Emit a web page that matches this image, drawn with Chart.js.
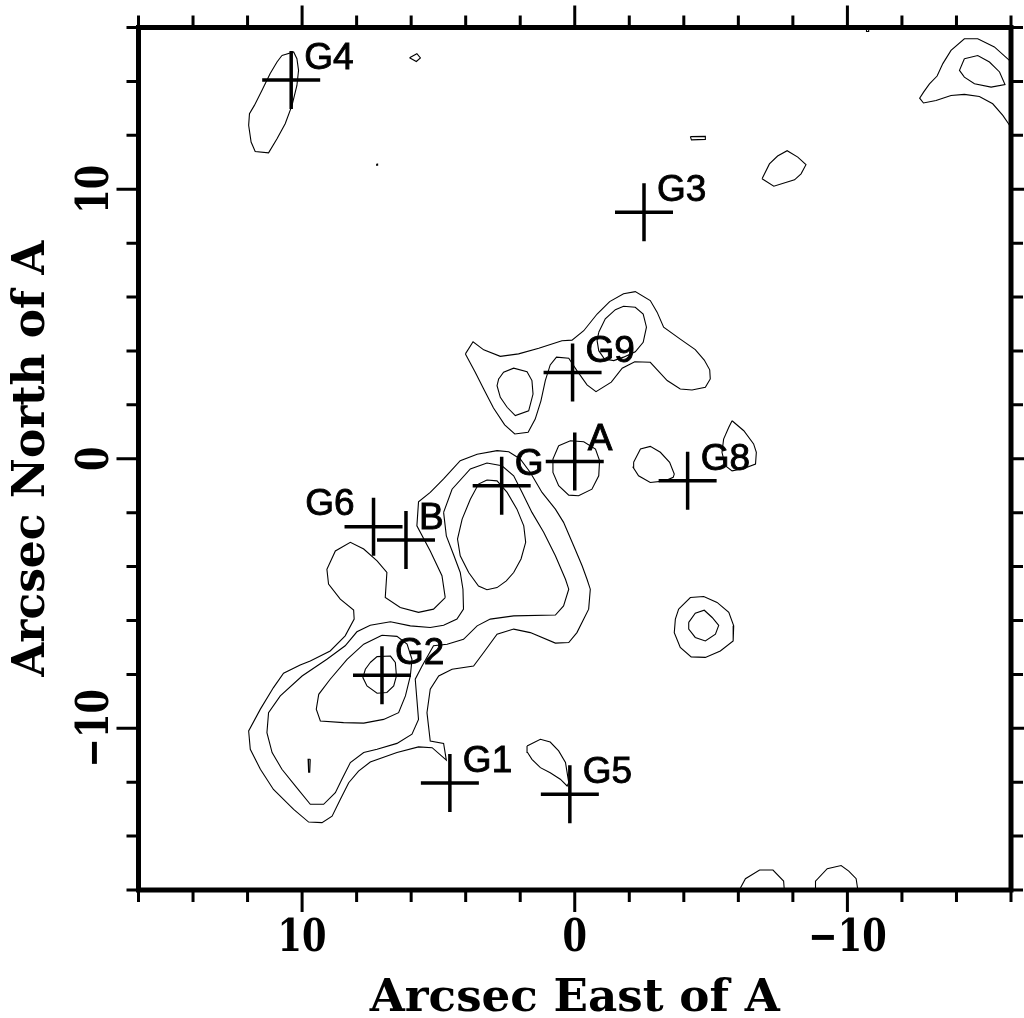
<!DOCTYPE html>
<html>
<head>
    <meta charset="utf-8" />
    <title>Arcsec offsets from A</title>
    <style>
        html, body { margin: 0; padding: 0; background: #fff; }
        canvas { display: block; }
    </style>
</head>
<body>
    <canvas id="myChart" width="1024" height="1018"></canvas>
    <script src="https://cdn.jsdelivr.net/npm/chart.js@4.4.1/dist/chart.umd.min.js"></script>
    <script>

        // axis ticks (arcsec)
        var majorTicks = [-10, 0, 10];
        var minorTicks = [-16, -14, -12, -8, -6, -4, -2, 2, 4, 6, 8, 12, 14, 16];
        var tickLabels = ['\u221210', '0', '10'];

        // marked sources: name, arcsec east, arcsec north
        var markerNames = ['G4', 'G3', 'G9', 'A', 'G', 'G6', 'B', 'G2', 'G1', 'G5', 'G8'];
        var markerX = [10.4, -2.54, 0.08, 0, 2.68, 7.38, 6.19, 7.07, 4.58, 0.18, -4.14];
        var markerY = [14.05, 9.15, 3.2, -0.1, -1.0, -2.52, -3.01, -8.03, -12.03, -12.45, -0.82];

        // contour lines, [east, north] in arcsec
        var contourG4 = [[10.74, 14.96], [10.31, 15.09], [10.19, 14.84], [10.13, 14.41], [10.19, 13.85], [10.37, 13.11], [10.62, 12.43], [10.92, 11.87], [11.23, 11.35], [11.72, 11.40], [11.87, 11.75], [11.96, 12.37], [11.93, 12.80], [11.75, 13.11], [11.47, 13.67], [11.17, 14.29], [10.92, 14.72]];
        var contourTri = [[6.06, 14.88], [5.79, 15.03], [5.66, 14.87], [5.81, 14.74]];
        var contourDotA = [[7.27, 10.93], [7.23, 10.93], [7.23, 10.89], [7.27, 10.89]];
        var contourDotB = [[-10.70, 15.93], [-10.78, 15.93], [-10.78, 15.85], [-10.70, 15.85]];
        var contourSliver = [[-4.24, 11.95], [-4.79, 11.96], [-4.79, 11.85], [-4.28, 11.83]];
        var contourNE = [[-6.87, 10.39], [-7.14, 10.94], [-7.44, 11.23], [-7.79, 11.43], [-8.18, 11.19], [-8.48, 10.91], [-8.30, 10.57], [-8.06, 10.35], [-7.30, 10.11]];
        var contourEdgeOuter = [[-16.1, 14.7], [-15.94, 14.78], [-15.39, 15.28], [-14.78, 15.58], [-14.29, 15.58], [-13.80, 15.15], [-13.50, 14.66], [-13.29, 14.20], [-13.01, 13.91], [-12.80, 13.61], [-12.65, 13.38], [-12.79, 13.20], [-13.25, 13.29], [-13.80, 13.48], [-14.29, 13.52], [-14.84, 13.44], [-15.33, 13.17], [-15.70, 12.74], [-15.91, 12.43], [-16.05, 12.2]];
        var contourEdgeInner = [[-14.29, 14.84], [-14.78, 14.96], [-15.21, 14.72], [-15.58, 14.35], [-15.78, 13.88], [-15.27, 13.79], [-14.66, 13.91], [-14.29, 14.16], [-14.11, 14.41]];
        var contourSouth1 = [[-6.01, -16.05], [-6.26, -15.58], [-6.78, -15.26], [-7.27, -15.26], [-7.66, -15.67], [-7.69, -16.05]];
        var contourSouth2 = [[-8.83, -16.05], [-8.83, -15.67], [-9.26, -15.21], [-9.77, -15.09], [-10.05, -15.30], [-10.32, -15.58], [-10.39, -16.05]];
        var contourG9Outer = [[4.01, 3.89], [3.73, 4.34], [3.34, 4.04], [2.73, 3.80], [2.06, 3.89], [1.32, 4.10], [0.47, 4.38], [0.10, 4.40], [-0.33, 4.75], [-0.82, 5.37], [-1.28, 5.83], [-1.79, 6.12], [-2.22, 6.20], [-2.77, 5.87], [-3.02, 5.44], [-3.26, 4.88], [-3.87, 4.44], [-4.42, 4.05], [-4.75, 3.66], [-4.95, 3.30], [-4.97, 2.96], [-4.79, 2.65], [-4.30, 2.55], [-3.87, 2.59], [-3.39, 2.90], [-2.77, 3.58], [-2.20, 3.60], [-1.74, 3.36], [-1.34, 2.84], [-0.78, 2.49], [-0.45, 2.74], [-0.08, 3.27], [0.22, 3.73], [0.67, 3.77], [0.90, 3.48], [1.08, 2.90], [1.24, 2.15], [1.45, 1.47], [1.71, 0.98], [2.20, 0.92], [2.57, 1.26], [2.98, 1.88], [3.34, 2.59], [3.65, 3.21]];
        var contourG9West = [[2.79, 2.96], [2.61, 3.21], [2.24, 3.36], [1.75, 3.23], [1.57, 2.90], [1.53, 2.40], [1.69, 1.78], [2.18, 1.60], [2.48, 1.91], [2.73, 2.28], [2.85, 2.71]];
        var contourG9East = [[-0.88, 4.69], [-1.12, 5.19], [-1.49, 5.53], [-1.79, 5.66], [-2.22, 5.62], [-2.51, 5.37], [-2.63, 4.88], [-2.51, 4.32], [-2.22, 3.97], [-1.79, 3.77], [-1.43, 3.64], [-1.09, 3.70], [-0.88, 4.01], [-0.82, 4.38]];
        var contourA = [[0.59, 0.48], [0.16, 0.67], [-0.33, 0.63], [-0.76, 0.36], [-0.91, -0.07], [-0.88, -0.63], [-0.63, -1.13], [-0.14, -1.37], [0.22, -1.35], [0.59, -1.00], [0.80, -0.51], [0.80, -0.01]];
        var contourG8West = [[-2.16, -0.13], [-2.41, 0.36], [-2.77, 0.46], [-3.14, 0.24], [-3.48, -0.13], [-3.65, -0.57], [-3.61, -0.69], [-3.32, -0.82], [-2.77, -0.88], [-2.34, -0.63], [-2.14, -0.32]];
        var contourG8East = [[-5.77, 1.41], [-6.20, 1.04], [-6.56, 0.55], [-6.66, 0.24], [-6.63, -0.20], [-6.20, -0.36], [-5.77, -0.45], [-5.52, -0.26], [-5.40, 0.24], [-5.46, 0.73], [-5.65, 1.17]];
        var contourRingOuter = [[-3.81, -5.58], [-4.24, -5.15], [-4.73, -5.11], [-5.22, -5.33], [-5.65, -5.70], [-5.83, -6.20], [-5.81, -6.76], [-5.34, -7.13], [-4.79, -7.37], [-4.27, -7.35], [-3.87, -7.00], [-3.65, -6.45], [-3.69, -5.95]];
        var contourRingInner = [[-4.18, -6.07], [-4.42, -5.73], [-4.75, -5.62], [-5.04, -5.89], [-5.28, -6.18], [-5.16, -6.51], [-4.79, -6.76], [-4.42, -6.63], [-4.18, -6.32]];
        var contourG5 = [[1.75, -10.66], [1.26, -10.41], [0.90, -10.51], [0.59, -10.84], [0.34, -11.27], [0.22, -12.02], [0.28, -12.14], [0.53, -11.89], [0.90, -11.65], [1.26, -11.46], [1.57, -11.15], [1.73, -10.90]];
        var contourSpeck = [[9.70, -11.15], [9.78, -11.15], [9.76, -11.63], [9.72, -11.63]];
        var contourMainOuter = [[4.75, -5.15], [4.87, -4.34], [5.30, -3.42], [5.79, -2.49], [5.73, -1.60], [5.30, -1.25], [4.81, -0.75], [4.20, -0.07], [3.58, 0.17], [2.85, 0.30], [2.42, 0.26], [2.00, -0.01], [1.63, -0.51], [1.20, -1.25], [0.71, -1.87], [0.41, -2.36], [0.04, -3.23], [-0.27, -3.97], [-0.45, -4.47], [-0.57, -4.84], [-0.51, -5.58], [-0.08, -6.45], [0.22, -6.82], [0.71, -6.84], [1.63, -6.45], [2.24, -6.32], [2.85, -6.51], [3.34, -7.19], [3.71, -7.69], [4.50, -7.81], [4.99, -8.06], [5.30, -8.55], [5.42, -9.42], [5.30, -10.47], [4.81, -10.56], [4.71, -11.18], [5.23, -10.72], [5.73, -10.69], [6.52, -10.90], [7.50, -11.25], [7.93, -11.59], [8.29, -12.02], [8.60, -12.64], [8.90, -13.26], [9.27, -13.50], [9.76, -13.48], [10.31, -13.01], [11.05, -12.27], [11.53, -11.52], [11.90, -10.78], [11.96, -10.10], [11.53, -9.29], [11.05, -8.49], [10.68, -7.96], [10.07, -7.65], [9.70, -7.50], [8.97, -7.13], [8.42, -6.57], [8.09, -5.95], [8.11, -5.61], [8.60, -5.21], [9.03, -4.65], [9.09, -4.10], [8.78, -3.42], [8.23, -3.10], [7.74, -3.35], [7.25, -3.79], [6.89, -4.22], [6.95, -5.15], [6.40, -5.52], [5.73, -5.70], [5.18, -5.58]];
        var contourMainMid = [[4.81, -1.99], [4.50, -1.13], [3.83, -0.38], [3.22, -0.16], [2.67, -0.26], [2.24, -0.63], [1.93, -1.25], [1.57, -1.99], [1.14, -2.73], [0.71, -3.60], [0.34, -4.47], [0.22, -4.84], [0.41, -5.46], [0.71, -5.80], [2.24, -5.83], [3.10, -5.95], [3.58, -6.20], [4.08, -6.70], [4.68, -6.88], [5.18, -6.94], [5.60, -7.69], [5.85, -8.18], [5.79, -8.92], [5.73, -9.67], [5.97, -10.22], [6.52, -10.56], [7.25, -10.78], [7.74, -10.90], [8.23, -11.27], [8.54, -11.89], [8.78, -12.39], [9.21, -12.82], [9.70, -12.82], [10.25, -12.14], [10.74, -11.52], [11.10, -10.90], [11.29, -10.16], [11.23, -9.42], [10.80, -8.80], [10.00, -8.06], [9.09, -7.44], [8.42, -6.94], [7.99, -6.42], [7.50, -6.18], [6.76, -6.05], [6.03, -6.20], [5.30, -6.26], [4.81, -6.18], [4.32, -5.95], [4.08, -5.58], [4.10, -4.84], [4.20, -4.22], [4.44, -3.57], [4.71, -2.86]];
        var contourG2Mid = [[7.07, -6.55], [6.52, -6.59], [6.15, -6.88], [5.97, -7.44], [6.03, -8.06], [6.21, -8.80], [6.46, -9.42], [7.01, -9.67], [7.74, -9.81], [8.48, -9.79], [9.33, -9.73], [9.48, -9.29], [9.39, -8.74], [8.97, -8.18], [8.35, -7.44], [7.74, -6.88]];
        var contourG2Core = [[7.50, -7.56], [7.25, -7.34], [6.76, -7.32], [6.58, -7.56], [6.54, -8.06], [6.64, -8.43], [6.89, -8.67], [7.25, -8.70], [7.62, -8.43], [7.77, -8.12], [7.68, -7.81]];
        var contourGCore = [[3.22, -0.79], [2.85, -0.82], [2.48, -1.25], [2.12, -1.87], [1.87, -2.49], [1.80, -3.10], [1.97, -3.72], [2.24, -4.22], [2.51, -4.53], [2.85, -4.78], [3.22, -4.86], [3.53, -4.72], [3.89, -4.22], [4.20, -3.60], [4.30, -2.98], [4.13, -2.24], [3.83, -1.50], [3.53, -0.94]];

        var closedContours = [contourG4, contourTri, contourDotA, contourDotB, contourSliver, contourNE,
            contourEdgeInner, contourG9Outer, contourG9West, contourG9East, contourA, contourG8West,
            contourG8East, contourRingOuter, contourRingInner, contourG5, contourSpeck, contourMainOuter,
            contourMainMid, contourG2Mid, contourG2Core, contourGCore];
        var openContours = [contourEdgeOuter, contourSouth1, contourSouth2];

        function toPoints(list) {
            return list.map(function (p) { return { x: p[0], y: p[1] }; });
        }

        var datasets = [{
            label: 'sources',
            data: markerX.map(function (x, i) { return { x: x, y: markerY[i] }; }),
            showLine: false,
            pointStyle: 'cross',
            pointRadius: 29,
            pointBorderWidth: 3.5,
            pointBorderColor: '#000',
            pointBackgroundColor: '#000'
        }];
        closedContours.forEach(function (c) {
            datasets.push({ data: toPoints(c.concat([c[0]])), showLine: true });
        });
        openContours.forEach(function (c) {
            datasets.push({ data: toPoints(c), showLine: true });
        });
        datasets.forEach(function (d, i) {
            if (i > 0) {
                d.borderColor = '#000';
                d.borderWidth = 1.1;
                d.pointRadius = 0;
                d.tension = 0;
                d.fill = false;
            }
        });

        // pgplot-like frame, ticks and text
        function drawSqueezed(ctx, str, x, y, rot, sx, align) {
            ctx.save();
            ctx.translate(x, y);
            ctx.rotate(rot);
            ctx.scale(sx, 1);
            ctx.textAlign = align || 'center';
            ctx.fillText(str, 0, 0);
            ctx.restore();
        }

        var framePlugin = {
            id: 'frame',
            afterDatasetsDraw: function (chart) {
                var ctx = chart.ctx, a = chart.chartArea;
                var xs = chart.scales.x, ys = chart.scales.y;
                ctx.save();
                ctx.fillStyle = '#000';
                ctx.strokeStyle = '#000';

                // source names, a little heavier than plain sans
                ctx.font = '37px "Liberation Sans", Arial, sans-serif';
                ctx.textBaseline = 'alphabetic';
                ctx.lineWidth = 0.9;
                markerNames.forEach(function (name, i) {
                    var px = xs.getPixelForValue(markerX[i]);
                    var py = ys.getPixelForValue(markerY[i]);
                    var tx = px + 13, ty = py - 11;
                    ctx.textAlign = 'left';
                    if (name === 'G6') {
                        ctx.textAlign = 'right';
                        tx = px - 19;
                        ty = py - 12;
                    }
                    ctx.fillText(name, tx, ty);
                    ctx.strokeText(name, tx, ty);
                });

                // box
                ctx.lineWidth = 5;
                ctx.strokeRect(a.left, a.top, a.right - a.left, a.bottom - a.top);

                // ticks, outside the box
                ctx.lineWidth = 3;
                function tick(v, len) {
                    var px = xs.getPixelForValue(v), py = ys.getPixelForValue(v);
                    ctx.beginPath();
                    ctx.moveTo(px, a.top); ctx.lineTo(px, a.top - len);
                    ctx.moveTo(px, a.bottom); ctx.lineTo(px, a.bottom + len);
                    ctx.moveTo(a.left, py); ctx.lineTo(a.left - len, py);
                    ctx.moveTo(a.right, py); ctx.lineTo(a.right + len, py);
                    ctx.stroke();
                }
                minorTicks.forEach(function (v) { tick(v, 12); });
                majorTicks.forEach(function (v) { tick(v, 22); });

                // tick labels
                ctx.font = 'bold 44px "DejaVu Serif", serif';
                majorTicks.forEach(function (v, i) {
                    drawSqueezed(ctx, tickLabels[i], xs.getPixelForValue(v), a.bottom + 61, 0, 0.8);
                    drawSqueezed(ctx, tickLabels[i], a.left - 31, ys.getPixelForValue(v), -Math.PI / 2, 0.8);
                });

                // axis titles
                var xTitle = 'Arcsec East of A', yTitle = 'Arcsec North of A';
                var sxX = 410 / ctx.measureText(xTitle).width;
                var sxY = 436 / ctx.measureText(yTitle).width;
                drawSqueezed(ctx, xTitle, (a.left + a.right) / 2, a.bottom + 121, 0, sxX);
                drawSqueezed(ctx, yTitle, 44, (a.top + a.bottom) / 2, -Math.PI / 2, sxY);
                ctx.restore();
            }
        };

        var context = document.getElementById('myChart').getContext('2d');
        var chart = new Chart(context, {
            type: 'scatter',
            data: { datasets: datasets },
            options: {
                responsive: false,
                animation: false,
                events: [],
                devicePixelRatio: 1,
                layout: { autoPadding: false, padding: { left: 138.5, right: 13, top: 27.5, bottom: 128 } },
                plugins: { legend: { display: false }, tooltip: { enabled: false } },
                scales: {
                    x: { type: 'linear', min: -16, max: 16, reverse: true, display: false },
                    y: { type: 'linear', min: -16, max: 16, display: false }
                }
            },
            plugins: [framePlugin]
        });

    </script>
</body>
</html>
